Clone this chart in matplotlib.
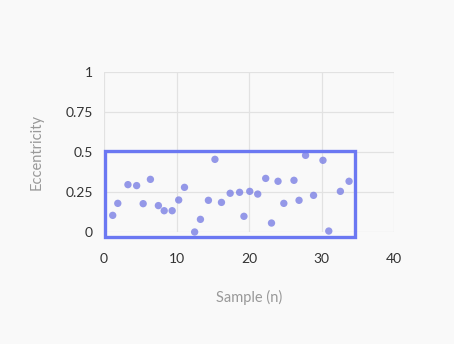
import matplotlib
matplotlib.use("Agg")
import matplotlib.pyplot as plt
from matplotlib.patches import Rectangle

plt.rcParams['font.family'] = ['Lato', 'DejaVu Sans']

sample = [1.2, 1.9, 3.3, 4.5, 5.4, 6.4, 7.5, 8.3, 9.4, 10.3, 11.1,
          12.5, 13.3, 14.4, 15.3, 16.2, 17.4, 18.7, 19.3, 20.1, 21.2,
          22.3, 23.1, 24.0, 24.8, 26.2, 26.9, 27.8, 28.9, 30.2, 31.0,
          32.6, 33.8]
ecc = [0.104, 0.179, 0.296, 0.29, 0.177, 0.329, 0.165, 0.133, 0.133, 0.2, 0.279,
       0.0, 0.079, 0.198, 0.454, 0.185, 0.242, 0.248, 0.098, 0.254, 0.237,
       0.335, 0.056, 0.317, 0.179, 0.323, 0.198, 0.479, 0.229, 0.448, 0.006,
       0.254, 0.317]

# selection box (data coords)
box_x = [0.2, 34.6]
box_y = [-0.033, 0.508]

xticks = [0, 10, 20, 30, 40]
yticks = [0, 0.25, 0.5, 0.75, 1]
ytick_labels = ['0', '0.25', '0.5', '0.75', '1']

bg = '#f9f9f9'
fig = plt.figure(figsize=(4.54, 3.44), dpi=100, facecolor=bg)
ax = fig.add_axes([0.2291, 0.3256, 0.6388, 0.4651], facecolor=bg)

ax.scatter(sample, ecc, s=28, color='#7b80e4', alpha=0.8, edgecolors='none',
           zorder=3, clip_on=False)

ax.add_patch(Rectangle((box_x[0], box_y[0]), box_x[1] - box_x[0], box_y[1] - box_y[0],
                       fill=False, edgecolor='#6b78f2', linewidth=2.4, zorder=4,
                       clip_on=False))

ax.set_xlim(0, 40)
ax.set_ylim(0, 1)
ax.set_xticks(xticks)
ax.set_yticks(yticks)
ax.set_yticklabels(ytick_labels)
ax.grid(True, color='#e2e2e2', linewidth=0.9)
ax.set_axisbelow(True)
for s in ax.spines.values():
    s.set_visible(False)
ax.tick_params(length=0, labelsize=10, colors='#333333')
ax.tick_params(axis='x', pad=15)
ax.tick_params(axis='y', pad=8)

ax.set_xlabel('Sample (n)', fontsize=10.5, color='#999999')
ax.set_ylabel('Eccentricity', fontsize=10.5, color='#999999')
ax.xaxis.set_label_coords(0.5, -0.36)
ax.yaxis.set_label_coords(-0.207, 0.5)

fig.savefig('out.png', dpi=100, facecolor=bg)
